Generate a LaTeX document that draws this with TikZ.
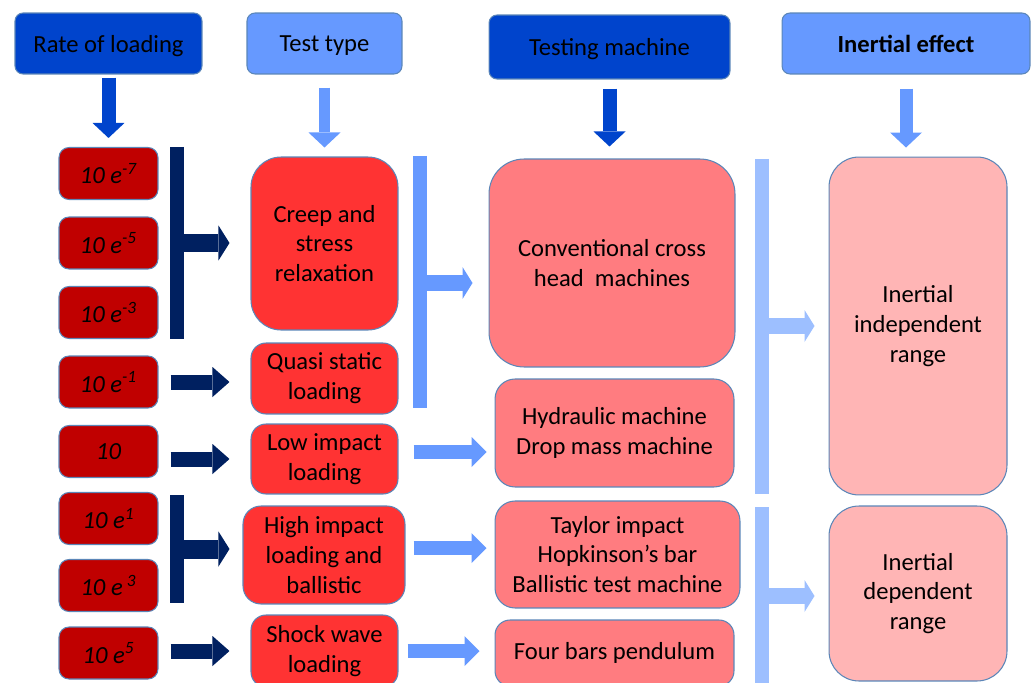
\documentclass[tikz,border=0pt]{standalone}
\usepackage{fontspec}
\setmainfont{Carlito}
\usetikzlibrary{arrows.meta}
\definecolor{headdark}{HTML}{0044CC}
\definecolor{headlight}{HTML}{6699FF}
\definecolor{navy}{HTML}{002060}
\definecolor{ratered}{HTML}{C00000}
\definecolor{testred}{HTML}{FF3333}
\definecolor{machred}{HTML}{FF7C80}
\definecolor{inerpink}{HTML}{FFB5B5}
\definecolor{palebar}{HTML}{9DBFFF}
\definecolor{edgeblue}{HTML}{5B86B8}
\begin{document}
\begin{tikzpicture}[x=0.02cm,y=-0.02cm]
\useasboundingbox (0,0) rectangle (1033,682);
\clip (0,0) rectangle (1033,682);
\tikzstyle{every node}=[draw=edgeblue,line width=0.6pt,inner sep=0pt,align=center,
font=\fontsize{14}{17}\selectfont]
\tikzstyle{headbox}=[rounded corners=0.16cm,minimum height=1.22cm,text depth=0pt]
\tikzstyle{ratebox}=[fill=ratered,rounded corners=0.2cm,minimum width=1.98cm,
minimum height=1.04cm,font=\fontsize{14}{17}\selectfont\itshape]
\tikzstyle{navybar}=[draw=navy,line width=0.28cm]
\tikzstyle{navyarm}=[draw=navy,line width=0.38cm,-{Triangle[length=0.22cm,width=0.7cm,line width=0pt]}]
\tikzstyle{navyrow}=[draw=navy,line width=0.3cm,-{Triangle[length=0.34cm,width=0.6cm,line width=0pt]},
shorten <=0.24cm]
\tikzstyle{downarrow}=[line width=0.28cm,-{Triangle[length=0.3cm,width=0.64cm,line width=0pt]}]
\tikzstyle{bluebar}=[line width=0.28cm]
\tikzstyle{bluearm}=[line width=0.32cm,-{Triangle[length=0.2cm,width=0.64cm,line width=0pt]}]
\tikzstyle{bluerow}=[draw=headlight,line width=0.28cm,-{Triangle[length=0.3cm,width=0.6cm,line width=0pt]}]

% headers
\draw (108.5,43.5) node (hrate) [headbox,fill=headdark,minimum width=3.74cm] {Rate of loading};
\draw (324.5,43.5) node (htest) [headbox,fill=headlight,minimum width=3.1cm] {Test type};
\draw (609.5,47) node (hmach) [headbox,fill=headdark,minimum width=4.82cm,minimum height=1.28cm] {Testing machine};
\draw (906,43.5) node (hiner) [headbox,fill=headlight,minimum width=4.96cm] {\bfseries Inertial effect};

% rates of loading
\draw (108.5,173.5) node (r1) [ratebox] {10 e\textsuperscript{-7}};
\draw (108.5,243) node (r2) [ratebox] {10 e\textsuperscript{-5}};
\draw (108.5,312.5) node (r3) [ratebox] {10 e\textsuperscript{-3}};
\draw (108.5,382) node (r4) [ratebox] {10 e\textsuperscript{-1}};
\draw (108.5,451.5) node (r5) [ratebox] {10};
\draw (108.5,518.5) node (r6) [ratebox] {10 e\textsuperscript{1}};
\draw (108.5,585.5) node (r7) [ratebox] {10 e\,\textsuperscript{3}};
\draw (108.5,653) node (r8) [ratebox] {10 e\textsuperscript{5}};

% test types
\draw (324.5,243.5) node (tcreep) [fill=testred,rounded corners=0.6cm,minimum width=2.94cm,minimum height=3.46cm] {Creep and\\stress\\relaxation};
\draw (324.5,378.5) node (tquasi) [fill=testred,rounded corners=0.3cm,minimum width=2.94cm,minimum height=1.42cm] {Quasi static\\loading};
\draw (324.5,459) node (tlow) [fill=testred,rounded corners=0.3cm,minimum width=2.94cm,minimum height=1.4cm] {Low impact\\loading};
\draw (324,555) node (thigh) [fill=testred,rounded corners=0.36cm,minimum width=3.24cm,minimum height=1.96cm] {High impact\\loading and\\ballistic};
\draw (324.5,651) node (tshock) [fill=testred,rounded corners=0.3cm,minimum width=2.94cm,minimum height=1.44cm] {Shock wave\\loading};

% testing machines
\draw (612,263) node (mconv) [fill=machred,rounded corners=0.7cm,minimum width=4.92cm,minimum height=4.16cm] {Conventional cross\\head\ \ machines};
\draw (614.5,433) node (mhyd) [fill=machred,rounded corners=0.4cm,minimum width=4.78cm,minimum height=2.16cm] {Hydraulic machine\\Drop mass machine};
\draw (617.5,554.5) node (mtaylor) [fill=machred,rounded corners=0.4cm,minimum width=4.9cm,minimum height=2.14cm] {Taylor impact\\Hopkinson’s bar\\Ballistic test machine};
\draw (614.5,653) node (mfour) [fill=machred,rounded corners=0.3cm,minimum width=4.78cm,minimum height=1.32cm] {Four bars pendulum};

% inertial effect
\draw (918,326) node (iind) [fill=inerpink,rounded corners=0.6cm,minimum width=3.56cm,minimum height=6.76cm] {Inertial\\independent\\range};
\draw (918,593.5) node (idep) [fill=inerpink,rounded corners=0.6cm,minimum width=3.56cm,minimum height=3.5cm] {Inertial\\dependent\\range};

% down arrows
\draw [downarrow,draw=headdark,shorten <=0.06cm,shorten >=0.18cm] (hrate) -- (r1);
\draw [downarrow,draw=headlight,line width=0.22cm,shorten <=0.26cm,shorten >=0.18cm] (htest) -- (tcreep);
\draw [downarrow,draw=headdark,shorten <=0.18cm,shorten >=0.24cm] (hmach) -- (hmach |- mconv.north);
\draw [downarrow,draw=headlight,line width=0.26cm,shorten <=0.28cm,shorten >=0.18cm] (hiner) -- (hiner |- iind.north);

% rate -> test type
\coordinate (navyA1) at (177,147);
\coordinate (navyA2) at (177,339);
\coordinate (navyAm) at (177,243);
\draw [navybar] (navyA1) -- (navyA2);
\draw [navyarm,shorten >=0.42cm] (navyAm) -- (navyAm -| tcreep.west);
\draw [navyrow,shorten >=0.42cm] (r4.east) -- (r4.east -| tquasi.west);
\draw [navyrow,shorten >=0.42cm] (tlow.west -| r5.east) -- (tlow.west);
\coordinate (navyB1) at (177,495);
\coordinate (navyB2) at (177,603);
\coordinate (navyBm) at (177,549);
\draw [navybar] (navyB1) -- (navyB2);
\draw [navyarm,shorten >=0.26cm] (navyBm) -- (navyBm -| thigh.west);
\draw [navyrow,shorten >=0.42cm] (tshock.west -| r8.east) -- (tshock.west);

% test type -> testing machine
\coordinate (blueC1) at (420,156);
\coordinate (blueC2) at (420,408);
\coordinate (blueCm) at (420,283);
\draw [bluebar,draw=headlight] (blueC1) -- (blueC2);
\draw [bluearm,draw=headlight,shorten >=0.32cm] (blueCm) -- (blueCm -| mconv.west);
\draw [bluerow,shorten <=0.3cm,shorten >=0.16cm] ([yshift=0.14cm]tlow.east) -- ([yshift=0.14cm]tlow.east -| mhyd.west);
\draw [bluerow,shorten <=0.16cm,shorten >=0.16cm] ([yshift=0.14cm]thigh.east) -- ([yshift=0.14cm]thigh.east -| mtaylor.west);
\draw [bluerow,shorten <=0.18cm,shorten >=0.3cm] (tshock.east) -- (tshock.east -| mfour.west);

% testing machine -> inertial effect
\coordinate (paleD1) at (762,159);
\coordinate (paleD2) at (762,494);
\coordinate (paleDm) at (762,326);
\draw [bluebar,draw=palebar] (paleD1) -- (paleD2);
\draw [bluearm,draw=palebar,shorten >=0.28cm] (paleDm) -- (paleDm -| iind.west);
\coordinate (paleE1) at (762,507);
\coordinate (paleE2) at (762,700);
\coordinate (paleEm) at (762,596);
\draw [bluebar,draw=palebar] (paleE1) -- (paleE2);
\draw [bluearm,draw=palebar,shorten >=0.28cm] (paleEm) -- (paleEm -| idep.west);
\end{tikzpicture}
\end{document}
